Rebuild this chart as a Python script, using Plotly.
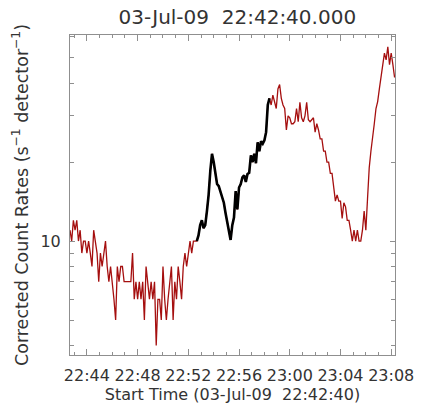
import plotly.graph_objects as go
from datetime import datetime, timedelta

# Light curve: corrected count rate per 8 s bin, starting 03-Jul-09 22:42:40
start = datetime(2009, 7, 3, 22, 42, 40)
bin_seconds = 8
rates = [
    11, 10, 12, 11, 12, 10, 11, 9, 10, 10,
    9, 10, 9, 8, 11, 10, 9, 7, 9, 8,
    9, 10, 8, 7, 8, 7, 6, 5, 8, 7,
    8, 8, 7, 7, 7, 7, 7, 9, 6, 7,
    6, 7, 6, 7, 5, 8, 7, 6, 7, 6,
    7, 4, 6, 6, 5, 8, 6, 5, 6, 7,
    8, 5, 7, 6, 8, 7, 6, 8, 9, 8,
    9, 10, 9, 10, 10, 10,
    10.5, 11.5, 12, 11.2, 11.5, 13, 15, 18.5, 21.5, 20,
    18, 16.5, 16.2, 15.5, 14.8, 14, 12.8, 11.8, 10.8, 10.1,
    11.5, 12.3, 15.5, 13.2, 16, 16.5, 17.5, 17.8, 16.8, 18,
    18.2, 21.2, 20, 21.5, 19.8, 23.8, 22, 24, 23.5, 24.2,
    26, 33,
    35, 33, 36, 34, 32, 38, 39.5, 35, 33, 32,
    26.5, 30, 29.5, 28, 28, 28.5, 32, 28.5, 33.8, 29.5,
    28.5, 30, 33.8, 29, 28.5, 29, 29.5, 26, 28, 26.5,
    24.5, 24.5, 22, 22, 20, 20, 18.1, 18.1, 15.5, 14.2,
    15, 14.2, 14.2, 12.2, 14, 13.5, 12, 12, 11, 10,
    11, 10, 11, 10, 10, 11, 13, 11, 14.5, 19,
    22, 24.5, 28, 32, 34, 38, 42, 48, 52, 49,
    55, 47, 52, 47, 42,
]
# Bins of the selected interval (drawn in black)
sel_first, sel_last = 75, 118

times = [start + timedelta(seconds=bin_seconds * i) for i in range(len(rates))]
x_end = start + timedelta(seconds=1538)

y_major = [10]
y_minor = [4, 5, 6, 7, 8, 9, 20, 30, 40, 50, 60]
x_tick0 = datetime(2009, 7, 3, 22, 44, 0)

font = "DejaVu Sans"
text_col = "#333333"
axis_col = "#8f8f8f"

fig = go.Figure()
fig.add_trace(go.Scatter(
    x=times, y=rates, mode="lines", line=dict(color="#a50f0f", width=1.3, shape="linear"),
    hoverinfo="skip", showlegend=False,
))
fig.add_trace(go.Scatter(
    x=times[sel_first:sel_last + 1], y=rates[sel_first:sel_last + 1], mode="lines",
    line=dict(color="#000000", width=2.6, shape="linear"),
    hoverinfo="skip", showlegend=False,
))

fig.update_layout(
    width=426, height=412,
    margin=dict(l=70, r=21, t=35, b=54),
    paper_bgcolor="white", plot_bgcolor="white",
    font=dict(family=font, color=text_col),
    title=dict(text="03-Jul-09  22:42:40.000", x=0.557, xanchor="center",
               y=0.958, yanchor="middle", font=dict(size=20, family=font, color=text_col)),
)
fig.update_xaxes(
    type="date", range=[start, x_end],
    tick0=x_tick0, dtick=4 * 60 * 1000, tickformat="%H:%M",
    ticks="inside", ticklen=6, tickcolor=axis_col, tickwidth=1,
    minor=dict(dtick=60 * 1000, ticks="inside", ticklen=3, tickcolor=axis_col, showgrid=False),
    showline=True, linecolor=axis_col, linewidth=1, mirror="ticks",
    showgrid=False, zeroline=False,
    tickfont=dict(size=16, family=font, color=text_col), ticklabelstandoff=6,
    title=dict(text="Start Time (03-Jul-09  22:42:40)", standoff=4,
               font=dict(size=16, family=font, color=text_col)),
)
fig.update_yaxes(
    type="log", range=[0.5658, 1.7853],
    tickvals=y_major, ticktext=["10"],
    ticks="inside", ticklen=5, tickcolor=axis_col, tickwidth=1,
    minor=dict(tickvals=y_minor, ticks="inside", ticklen=4, tickcolor=axis_col, showgrid=False),
    showline=True, linecolor=axis_col, linewidth=1, mirror="ticks",
    showgrid=False, zeroline=False,
    tickfont=dict(size=16, family=font, color=text_col), ticklabelstandoff=5,
    title=dict(text="Corrected Count Rates (s<sup>−1</sup> detector<sup>−1</sup>)", standoff=7,
               font=dict(size=17.5, family=font, color=text_col)),
)

fig.write_html("out.html")
